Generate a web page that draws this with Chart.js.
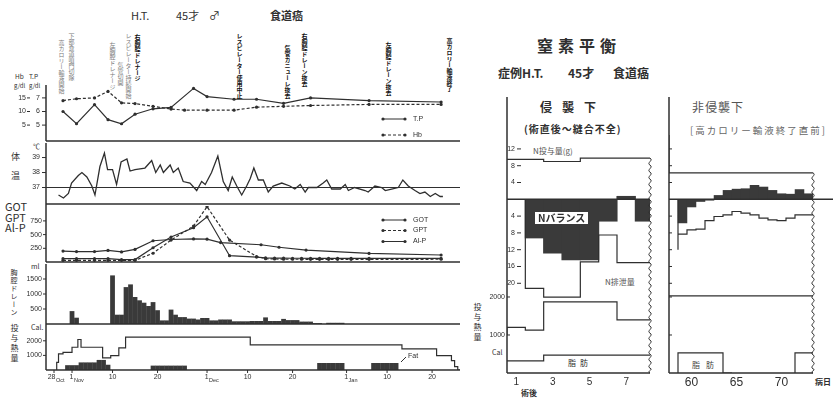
<!DOCTYPE html>
<html lang="ja">
<head>
<meta charset="utf-8">
<title>経過表と窒素平衡</title>
<script src="https://cdn.jsdelivr.net/npm/chart.js@4.4.1/dist/chart.umd.min.js"></script>
<style>
  html, body { margin: 0; padding: 0; background: #fff; }
  body { position: relative; width: 833px; height: 401px; overflow: hidden;
         font-family: "Noto Sans CJK JP", "Liberation Sans", sans-serif; color: #2f2f2f; }
  canvas { position: absolute; }
  .t { position: absolute; white-space: nowrap; line-height: 1; }
  .v { position: absolute; writing-mode: vertical-rl; white-space: nowrap; line-height: 1; }
  .n { font-size: 6px; color: #7a7a7a; }
  .nb { font-size: 6px; color: #111; font-weight: bold; }
</style>
</head>
<body>

<!-- 左: 経過表 -->
<div class="t" style="left:131px;top:10px;font-size:11px">H.T.</div>
<div class="t" style="left:176px;top:10px;font-size:11px">45才</div>
<div class="t" style="left:209px;top:10px;font-size:11px">♂</div>
<div class="t" style="left:270px;top:10px;font-size:11px;font-weight:bold">食道癌</div>

<div class="v n" style="left:58px;top:40px">高カロリー輸液開始</div>
<div class="v n" style="left:68px;top:33px">下部食道噴門切除</div>
<div class="v n" style="left:109px;top:42px">左胸腔ドレナージ</div>
<div class="v n" style="left:117px;top:62px">気管切開</div>
<div class="v n" style="left:125px;top:33px">レスピレーター持続開始</div>
<div class="v nb" style="left:134px;top:34px">右胸腔ドレナージ</div>
<div class="v nb" style="left:236px;top:33px">レスピレーター使用中止</div>
<div class="v nb" style="left:284px;top:45px">気管カニューレ抜去</div>
<div class="v nb" style="left:301px;top:33px">右胸腔ドレーン抜去</div>
<div class="v nb" style="left:385px;top:42px">左胸腔ドレーン抜去</div>
<div class="v nb" style="left:446px;top:38px">高カロリー輸液終了</div>

<div class="t" style="left:15px;top:73px;font-size:6.5px">Hb</div>
<div class="t" style="left:29px;top:73px;font-size:6.5px">T.P</div>
<div class="t" style="left:14px;top:83px;font-size:6px">g/dl</div>
<div class="t" style="left:29px;top:83px;font-size:6px">g/dl</div>
<div class="t" style="left:11px;top:152px;font-size:9px">体</div>
<div class="t" style="left:11px;top:171px;font-size:9px">温</div>
<div class="t" style="left:33px;top:143px;font-size:7px">℃</div>
<div class="t" style="left:5px;top:201px;font-size:11px">GOT</div>
<div class="t" style="left:5px;top:212px;font-size:11px">GPT</div>
<div class="t" style="left:5px;top:222px;font-size:11px">Al-P</div>
<div class="t" style="left:31px;top:263px;font-size:7px">ml</div>
<div class="v" style="left:10px;top:269px;font-size:7px;letter-spacing:1px">胸腔ドレーン</div>
<div class="t" style="left:31px;top:324px;font-size:7px">Cal.</div>
<div class="v" style="left:10px;top:324px;font-size:8px;letter-spacing:2px">投与熱量</div>

<!-- 右: 窒素平衡 -->
<div class="t" style="left:537px;top:37px;font-size:16px;font-weight:bold;letter-spacing:5px">窒素平衡</div>
<div class="t" style="left:498px;top:67px;font-size:12px;font-weight:bold">症例H.T.</div>
<div class="t" style="left:568px;top:67px;font-size:12px;font-weight:bold">45才</div>
<div class="t" style="left:613px;top:67px;font-size:12px;font-weight:bold">食道癌</div>
<div class="t" style="left:540px;top:101px;font-size:12px;font-weight:bold;letter-spacing:10px">侵襲下</div>
<div class="t" style="left:524px;top:124px;font-size:10px;font-weight:bold;letter-spacing:1px">(術直後～縫合不全)</div>
<div class="t" style="left:533px;top:147px;font-size:8px;color:#555">N投与量(g)</div>
<div class="t" style="left:605px;top:278px;font-size:8px;color:#555">N排泄量</div>
<div class="t" style="left:568px;top:359px;font-size:8px;letter-spacing:4px">脂肪</div>
<div class="v" style="left:473px;top:303px;font-size:8px;letter-spacing:2px">投与熱量</div>
<div class="t" style="left:492px;top:349px;font-size:7px">Cal</div>
<div class="t" style="left:521px;top:389px;font-size:8px;font-weight:bold">術後</div>
<div class="t" style="left:692px;top:101px;font-size:12px;color:#555;letter-spacing:1px">非侵襲下</div>
<div class="t" style="left:690px;top:126px;font-size:9.5px;color:#666;letter-spacing:2px">[高カロリー輸液終了直前]</div>
<div class="t" style="left:692px;top:361px;font-size:8px;color:#444;letter-spacing:6px">脂肪</div>
<div class="t" style="left:815px;top:378px;font-size:8px;font-weight:bold">病日</div>

<canvas id="c1" width="465" height="67" style="left:0;top:78px"></canvas>
<canvas id="c2" width="465" height="65" style="left:0;top:141px"></canvas>
<canvas id="c3" width="465" height="64" style="left:0;top:202px"></canvas>
<canvas id="c4" width="465" height="64" style="left:0;top:262px"></canvas>
<canvas id="c5" width="465" height="78" style="left:0;top:322px"></canvas>
<canvas id="c6" width="190" height="312" style="left:470px;top:88px"></canvas>
<canvas id="c7" width="173" height="312" style="left:660px;top:88px"></canvas>

<div class="t" style="left:535px;top:212px;font-size:10px;font-weight:bold;background:#fff;padding:1px 3px">Nバランス</div>

<script>
// 経過日数: 10/28 を 0 日目とする
var hbDays = [2, 5, 9, 12, 15, 18, 22, 26, 29, 34, 40, 45, 51, 57, 70, 86];
var hbValues = [14.0, 14.7, 15.0, 17.4, 13.2, 12.9, 11.9, 10.9, 10.5, 10.5, 10.5, 11.6, 11.9, 12.2, 12.6, 12.6];
var tpDays = [2, 5, 9, 12, 15, 18, 22, 26, 31, 34, 40, 45, 51, 57, 70, 86];
var tpValues = [6.0, 5.1, 6.5, 5.4, 5.1, 5.8, 6.2, 6.3, 7.7, 7.1, 6.9, 6.9, 6.6, 7.0, 6.8, 6.7];

var tempDays = [1.0, 2.1, 3.2, 3.9, 5.4, 6.2, 7.3, 8.4, 9.1, 10.2,
  11.2, 11.9, 13.0, 13.9, 14.9, 16.2, 16.9, 18.0, 20.2, 21.7,
  22.6, 23.6, 24.3, 25.8, 26.5, 27.6, 28.7, 30.2, 31.7, 32.8,
  33.6, 35.0, 36.4, 37.6, 38.7, 39.6, 40.6, 41.7, 42.8, 43.6,
  44.4, 45.4, 46.5, 47.6, 48.7, 50.6, 52.4, 53.5, 54.7, 55.8,
  56.5, 58.4, 59.8, 60.6, 61.7, 63.6, 64.7, 65.4, 66.8, 69.1,
  69.8, 71.3, 72.8, 73.6, 75.0, 76.5, 77.5, 78.7, 80.2, 81.3,
  82.4, 83.6, 84.7, 85.8, 86.4];
var tempValues = [36.5, 36.3, 36.6, 37.3, 37.8, 38.0, 37.7, 37.1, 36.5, 38.4,
  39.3, 38.2, 38.2, 37.2, 38.7, 38.9, 38.1, 38.2, 38.3, 38.8,
  38.0, 38.5, 38.0, 38.5, 38.0, 38.3, 37.4, 37.3, 36.8, 37.4,
  37.2, 38.0, 39.1, 37.4, 36.8, 37.7, 37.1, 36.5, 37.1, 37.6,
  38.3, 37.5, 37.5, 36.7, 37.1, 37.3, 37.1, 36.9, 37.2, 36.7,
  37.0, 37.0, 37.3, 37.5, 36.9, 36.9, 37.2, 36.8, 37.0, 36.8,
  36.7, 37.1, 37.0, 36.8, 36.9, 37.0, 37.5, 37.1, 36.8, 36.6,
  36.7, 36.4, 36.6, 36.4, 36.4];

var enzymeDays = [2, 5, 9, 12, 15, 18, 22, 26, 31, 34, 39, 45, 47, 49, 51, 53, 55, 57, 59, 61, 63, 66, 70, 86];
var gotValues = [60, 60, 60, 60, 45, 45, 260, 455, 625, 825, 115, 90, 75, 70, 70, 68, 68, 65, 65, 65, 65, 65, 65, 65];
var gptValues = [30, 30, 30, 30, 30, 30, 160, 400, 655, 1010, 400, 100, 60, 55, 50, 50, 50, 48, 48, 48, 48, 48, 48, 50];
var alpDays = [2, 5, 9, 12, 15, 18, 22, 26, 31, 34, 37, 46, 50, 56, 70, 86];
var alpValues = [200, 190, 190, 212, 184, 230, 388, 411, 422, 416, 354, 315, 269, 218, 156, 128];

var drainDays = [4, 5, 13, 14, 15, 16, 17, 18, 19, 20, 21, 22, 23, 24, 25, 26, 27, 28, 29, 30,
  31, 32, 33, 34, 35, 36, 37, 38, 39, 40, 41, 42, 43, 44, 45, 46, 47, 48, 49, 50,
  51, 52, 53, 54, 55, 56, 57, 58, 59, 61, 62, 63, 64];
var drainValues = [430, 210, 1620, 310, 310, 1230, 1320, 900, 790, 710, 600, 730, 460, 120, 120, 480, 310, 230, 230, 180,
  180, 150, 200, 200, 120, 120, 150, 150, 150, 90, 90, 90, 90, 100, 100, 100, 220, 100, 100, 100,
  170, 130, 130, 130, 80, 80, 80, 30, 30, 40, 40, 40, 40];

// 投与熱量は変化点のみ
var calDays = [0.6, 1, 2, 4, 5.3, 6, 10.8, 12.6, 14.4, 15.9, 43.6, 77.3, 85, 88.3, 89, 89.7, 90.2];
var calValues = [0, 520, 1100, 1210, 1560, 2090, 1560, 830, 990, 1520, 2250, 1720, 1450, 990, 640, 230, 0];
var fatDays = [3, 4, 5, 6, 7, 8, 9, 10, 11, 12, 22, 23, 24, 25, 26, 27, 28, 29,
  59, 60, 61, 62, 63, 64, 71, 72, 73, 74, 75, 76];
var fatValues = [330, 330, 330, 520, 520, 520, 520, 690, 690, 360, 300, 300, 300, 300, 300, 300, 300, 300,
  480, 480, 480, 480, 480, 480, 480, 480, 480, 480, 480, 480];

var dateTickDays = [0, 4, 13, 23, 34, 43, 53, 65, 74, 84];
var dateTickLabels = ['28', '1', '10', '20', '1', '10', '20', '1', '10', '20'];
var dateTickMonths = ['Oct', 'Nov', '', '', 'Dec', '', '', 'Jan', '', ''];
var hbTicks = [15, 10, 5];
var tpTicks = [7, 6, 5];
var tempTicks = [39, 38, 37];
var enzymeTicks = [750, 500, 250];
var drainTicks = [1500, 1000, 500];
var calTicks = [2000, 1000];

// 窒素平衡 (侵襲下: 術後日数, 非侵襲下: 病日)
var postOpDays = [1, 2, 3, 4, 5, 6, 7, 8];
var postOpNIntake = [9.5, 9.5, 9.5, 9.0, 9.0, 9.8, 9.8, 9.8];
var postOpNExcretion = [null, 18.3, 21.2, 23.3, 23.3, 14.9, 8.5, 15.1];
var postOpNBalance = [null, -9.3, -12.9, -14.5, -14.5, -5.3, 0.8, -5.3];
var postOpCalories = [1000, 1200, 1130, 1870, 1870, 1870, 1870, 1400];
var postOpFat = [320, 320, 320, 470, 470, 470, 470, 470];

var lateDays = [58, 59, 60, 61, 62, 63, 64, 65, 66, 67, 68, 69, 70, 71, 72, 73];
var lateNIntake = [15.3, 6.3, 6.3, 6.3, 6.3, 6.3, 6.3, 6.3, 6.3, 6.3, 6.3, 6.3, 6.3, 6.3, 6.3, 6.3];
var lateNExcretion = [null, 12.0, 8.3, 7.3, 7.1, 5.1, 4.1, 3.7, 2.9, 3.3, 3.7, 4.5, 4.9, 5.1, 4.5, 3.7];
var lateNBalance = [null, -5.7, -1.9, -0.6, -0.3, 1.0, 2.2, 2.5, 2.6, 3.4, 3.0, 2.2, 1.4, 1.3, 2.4, 1.4];
var lateCalories = [2030, 2030, 2030, 2030, 2030, 2030, 2030, 2030, 2030, 2030, 2030, 2030, 2030, 2030, 2030, 2030];
var lateFat = [null, 530, 530, 530, 530, 530, 530, null, null, null, null, null, null, null, 530, 530];

var nTicks = [12, 8, 4, -4, -8, -12, -16, -20];
var balanceCalTicks = [2000, 1000];
var postOpDayTicks = [1, 3, 5, 7];
var lateDayTicks = [60, 65, 70];

var INK = '#2f2f2f', DARK = '#3a3a3a';
var TICK_FONT = '7px "Liberation Sans", sans-serif';

function pts(xs, ys) {
  return xs.map(function (x, i) { return { x: x, y: ys[i] }; });
}
function neg(vs) {
  return vs.map(function (v) { return v == null ? null : -v; });
}
// 日ごとの値を ±0.5 日の階段に
function stepPoints(days, values, base, end) {
  var out = [], last = null;
  days.forEach(function (d, i) {
    var v = values[i];
    if (v == null) {
      if (last != null) {
        out.push({ x: d - 0.5, y: base ? 0 : last });
        out.push({ x: d - 0.5, y: null });
      }
      last = null;
      return;
    }
    if (last == null && base) out.push({ x: d - 0.5, y: 0 });
    out.push({ x: d - 0.5, y: v });
    last = v;
  });
  if (last != null) out.push({ x: end, y: last });
  return out;
}

function line(ctx, x1, y1, x2, y2) {
  ctx.beginPath(); ctx.moveTo(x1, y1); ctx.lineTo(x2, y2); ctx.stroke();
}
function dot(ctx, x, y) {
  ctx.beginPath(); ctx.arc(x, y, 1.6, 0, Math.PI * 2); ctx.fill();
}
function wavy(ctx, x, y1, y2) {
  ctx.beginPath(); ctx.moveTo(x, y1);
  for (var y = y1; y < y2 - 0.5; y += 7) {
    var e = Math.min(y + 7, y2);
    ctx.bezierCurveTo(x + 4, y + (e - y) * 0.33, x - 4, y + (e - y) * 0.66, x, e);
  }
  ctx.stroke();
}
function legendRow(ctx, y, dash, label) {
  ctx.setLineDash(dash); line(ctx, 383, y, 405, y); ctx.setLineDash([]);
  dot(ctx, 383, y); dot(ctx, 405, y);
  ctx.font = TICK_FONT; ctx.textAlign = 'left'; ctx.textBaseline = 'middle';
  ctx.fillText(label, 413, y);
}

function decor(spec) {
  return {
    id: 'decor',
    afterDraw: function (chart) {
      var ctx = chart.ctx, a = chart.chartArea;
      ctx.save();
      ctx.strokeStyle = INK; ctx.fillStyle = INK; ctx.lineWidth = 1.5;
      if (spec.axisTop != null) line(ctx, a.left, spec.axisTop, a.left, a.bottom);
      if (spec.bottom) line(ctx, a.left, a.bottom, a.right, a.bottom);
      ctx.lineWidth = 1;
      ctx.textBaseline = 'middle';
      (spec.ticks || []).forEach(function (t) {
        var s = chart.scales[t.axis];
        ctx.font = TICK_FONT; ctx.textAlign = 'right';
        t.values.forEach(function (v) {
          var y = s.getPixelForValue(v);
          if (t.x != null) ctx.fillText(String(Math.abs(v)), t.x, y);
          line(ctx, t.mark[0], y, t.mark[1], y);
        });
      });
      if (spec.extra) spec.extra(chart, ctx, a);
      ctx.restore();
    }
  };
}

function options(pad, xMin, xMax, yScales) {
  var scales = {
    x: { type: 'linear', min: xMin, max: xMax, display: false, offset: false,
         afterBuildTicks: function (s) { s.ticks = []; } }
  };
  Object.keys(yScales).forEach(function (k) {
    scales[k] = { type: 'linear', display: false, min: yScales[k][0], max: yScales[k][1] };
  });
  return {
    responsive: false, animation: false, events: [],
    layout: { padding: pad },
    plugins: { legend: { display: false }, tooltip: { enabled: false } },
    scales: scales
  };
}

function lineDs(data, axis, extra) {
  return Object.assign({
    type: 'line', data: data, yAxisID: axis, borderColor: INK, borderWidth: 1.2,
    pointRadius: 0, tension: 0, fill: false, spanGaps: false
  }, extra || {});
}
function barDs(data, axis) {
  return {
    type: 'bar', data: data, yAxisID: axis, backgroundColor: DARK, borderWidth: 0,
    barPercentage: 1.06, categoryPercentage: 1, grouped: false
  };
}
var dots = { pointRadius: 1.6, pointBackgroundColor: INK, pointBorderWidth: 0 };

function make(id, datasets, opts, spec) {
  return new Chart(document.getElementById(id), {
    type: 'line',
    data: { datasets: datasets },
    options: opts,
    plugins: [decor(spec)]
  });
}

var LEFT_PAD = { left: 46, right: 5 };
function pad(top, bottom) { return Object.assign({ top: top, bottom: bottom }, LEFT_PAD); }

// Hb / T.P
make('c1', [
  lineDs(pts(tpDays, tpValues), 'yTp', dots),
  lineDs(pts(hbDays, hbValues), 'yHb', Object.assign({ borderDash: [3, 2] }, dots))
], options(pad(2, 2), -1.78, 90.2, { yHb: [-0.86, 20.86], yTp: [3.83, 8.17] }), {
  axisTop: 7, bottom: true,
  ticks: [
    { axis: 'yHb', values: hbTicks, x: 26, mark: [27, 30] },
    { axis: 'yTp', values: tpTicks, x: 40, mark: [42, 46] }
  ],
  extra: function (chart, ctx) {
    legendRow(ctx, 41, [], 'T.P');
    legendRow(ctx, 57, [3, 2], 'Hb');
  }
});

// 体温
make('c2', [
  lineDs(pts(tempDays, tempValues), 'y', { borderWidth: 1.3 })
], options(pad(2, 2), -1.78, 90.2, { y: [35.9, 39.97] }), {
  axisTop: 2, bottom: true,
  ticks: [{ axis: 'y', values: tempTicks, x: 40, mark: [42, 46] }],
  extra: function (chart, ctx, a) {
    var y = chart.scales.y.getPixelForValue(37);
    line(ctx, a.left, y, a.right, y);
  }
});

// GOT / GPT / Al-P
make('c3', [
  lineDs(pts(enzymeDays, gotValues), 'y', dots),
  lineDs(pts(enzymeDays, gptValues), 'y', Object.assign({ borderDash: [3, 2] }, dots)),
  lineDs(pts(alpDays, alpValues), 'y', dots)
], options(pad(2, 2), -1.78, 90.2, { y: [0, 1022] }), {
  axisTop: 2, bottom: true,
  ticks: [{ axis: 'y', values: enzymeTicks, x: 42, mark: [43, 46] }],
  extra: function (chart, ctx) {
    legendRow(ctx, 18, [], 'GOT');
    legendRow(ctx, 28.5, [3, 2], 'GPT');
    legendRow(ctx, 39.5, [], 'Al-P');
  }
});

// 胸腔ドレーン排液量
make('c4', [
  barDs(pts(drainDays, drainValues), 'y')
], options(pad(2, 2), -1.78, 90.2, { y: [0, 2000] }), {
  axisTop: 2, bottom: true,
  ticks: [{ axis: 'y', values: drainTicks, x: 42, mark: [43, 46] }]
});

// 投与熱量 + 脂肪
make('c5', [
  lineDs(pts(calDays, calValues), 'y', { stepped: 'after' }),
  barDs(pts(fatDays, fatValues), 'y')
], options(pad(2, 30), -1.78, 90.2, { y: [0, 3151] }), {
  axisTop: 2, bottom: true,
  ticks: [{ axis: 'y', values: calTicks, x: 42, mark: [43, 46] }],
  extra: function (chart, ctx, a) {
    var xs = chart.scales.x;
    ctx.textBaseline = 'middle';
    dateTickDays.forEach(function (d, i) {
      var x = xs.getPixelForValue(d);
      line(ctx, x, a.bottom, x, a.bottom + 3);
      ctx.font = TICK_FONT;
      if (dateTickMonths[i]) {
        ctx.textAlign = 'right'; ctx.fillText(dateTickLabels[i], x + 1.5, a.bottom + 7);
        ctx.font = '5.5px "Liberation Sans", sans-serif';
        ctx.textAlign = 'left'; ctx.fillText(dateTickMonths[i], x + 2, a.bottom + 10);
      } else {
        ctx.textAlign = 'center'; ctx.fillText(dateTickLabels[i], x, a.bottom + 7);
      }
    });
    ctx.font = TICK_FONT;
    line(ctx, 401, 40, 406, 35);
    ctx.textAlign = 'left';
    ctx.fillText('Fat', 408, 34);
  }
});

// 窒素平衡: 侵襲下
var NSCALE = [-41.36, 24.36], CSCALE = [0, 7263];
make('c6', [
  lineDs(stepPoints(postOpDays, postOpNIntake, false, 8.3), 'yN', { stepped: 'after' }),
  lineDs(stepPoints(postOpDays, neg(postOpNExcretion), true, 8.3), 'yN', { stepped: 'after' }),
  lineDs(stepPoints(postOpDays, postOpCalories, false, 8.3), 'yCal', { stepped: 'after' }),
  lineDs(stepPoints(postOpDays, postOpFat, false, 8.3), 'yCal', { stepped: 'after' }),
  barDs(pts(postOpDays, postOpNBalance), 'yN')
], options({ left: 37, right: 10, top: 9, bottom: 27 }, 0.5, 8.3, { yN: NSCALE, yCal: CSCALE }), {
  axisTop: 9, bottom: true,
  ticks: [
    { axis: 'yN', values: nTicks, x: 45, mark: [47, 51] },
    { axis: 'yCal', values: balanceCalTicks, x: 35, mark: [37, 40] }
  ],
  extra: function (chart, ctx, a) {
    var yN = chart.scales.yN, xs = chart.scales.x;
    ctx.lineWidth = 1.4;
    line(ctx, a.left, yN.getPixelForValue(0), a.right, yN.getPixelForValue(0));
    ctx.lineWidth = 1;
    wavy(ctx, a.right, yN.getPixelForValue(postOpNIntake[postOpNIntake.length - 1]), a.bottom);
    ctx.font = '10px "Liberation Sans", sans-serif'; ctx.textAlign = 'center';
    postOpDayTicks.forEach(function (d) {
      ctx.fillText(String(d), xs.getPixelForValue(d), a.bottom + 9);
    });
  }
});

// 窒素平衡: 非侵襲下
make('c7', [
  lineDs(stepPoints(lateDays, lateNIntake, false, 73.5), 'yN', { stepped: 'after' }),
  lineDs(stepPoints(lateDays, neg(lateNExcretion), true, 73.5), 'yN', { stepped: 'after' }),
  lineDs(stepPoints(lateDays, lateCalories, false, 73.5), 'yCal', { stepped: 'after' }),
  lineDs(stepPoints(lateDays, lateFat, true, 73.5), 'yCal', { stepped: 'after' }),
  barDs(pts(lateDays, lateNBalance), 'yN')
], options({ left: 9, right: 20, top: 9, bottom: 27 }, 57.5, 73.5, { yN: NSCALE, yCal: CSCALE }), {
  axisTop: 9, bottom: true,
  ticks: [
    { axis: 'yN', values: nTicks, mark: [9, 12] },
    { axis: 'yCal', values: balanceCalTicks, mark: [9, 12] }
  ],
  extra: function (chart, ctx, a) {
    var yN = chart.scales.yN, xs = chart.scales.x;
    ctx.lineWidth = 1.4;
    line(ctx, a.left, yN.getPixelForValue(0), chart.width, yN.getPixelForValue(0));
    ctx.lineWidth = 1;
    wavy(ctx, a.right, yN.getPixelForValue(lateNIntake[lateNIntake.length - 1]), a.bottom);
    ctx.font = '12px "Liberation Sans", sans-serif'; ctx.textAlign = 'center';
    lateDayTicks.forEach(function (d) {
      ctx.fillText(String(d), xs.getPixelForValue(d), a.bottom + 10);
    });
  }
});
</script>
</body>
</html>
